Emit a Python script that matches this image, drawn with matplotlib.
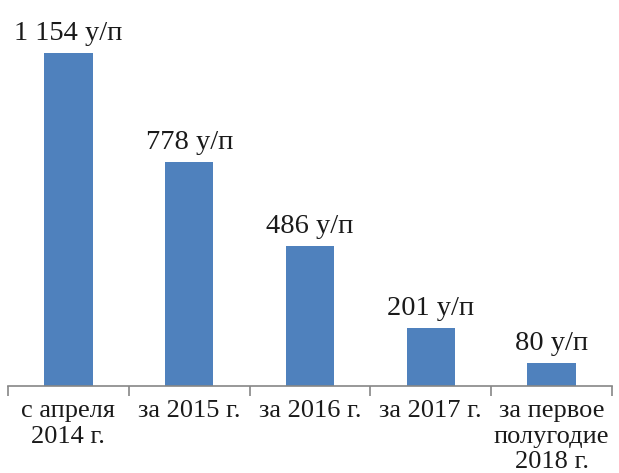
import matplotlib.pyplot as plt
import numpy as np

# Data
categories = ["с апреля\n2014 г.", "за 2015 г.", "за 2016 г.", "за 2017 г.",
              "за первое\nполугодие\n2018 г."]
values = [1154, 778, 486, 201, 80]
value_labels = ["1 154 у/п", "778 у/п", "486 у/п", "201 у/п", "80 у/п"]

plt.rcParams['font.family'] = ['Liberation Serif', 'DejaVu Serif']

fig = plt.figure(figsize=(6.19, 4.73), dpi=100)
ax = fig.add_axes([8 / 619, (473 - 386) / 473, 604 / 619, 386 / 473])

x = np.arange(len(categories))
ax.bar(x, values, width=0.4, color='#4F81BD', zorder=2)

# Value labels above bars
for xi, v, lab in zip(x, values, value_labels):
    ax.annotate(lab, (xi, v), xytext=(0, 5), textcoords='offset points',
                ha='center', va='bottom', fontsize=20.5, color='#1a1a1a')

ax.set_xlim(-0.5, len(categories) - 0.5)
ax.set_ylim(0, 1338)

# Category axis: labels at centers, tick marks at boundaries
ax.set_xticks(x)
ax.set_xticklabels(categories, fontsize=19, color='#1a1a1a', linespacing=1.22)
ax.tick_params(axis='x', which='major', length=0, pad=10)
ax.set_xticks(np.arange(-0.5, len(categories), 1.0), minor=True)
ax.tick_params(axis='x', which='minor', length=7, width=1.2, color='#868686')

ax.set_yticks([])
for side in ['top', 'right', 'left']:
    ax.spines[side].set_visible(False)
ax.spines['bottom'].set_color('#868686')
ax.spines['bottom'].set_linewidth(1.2)

fig.savefig('out.png', dpi=100)
